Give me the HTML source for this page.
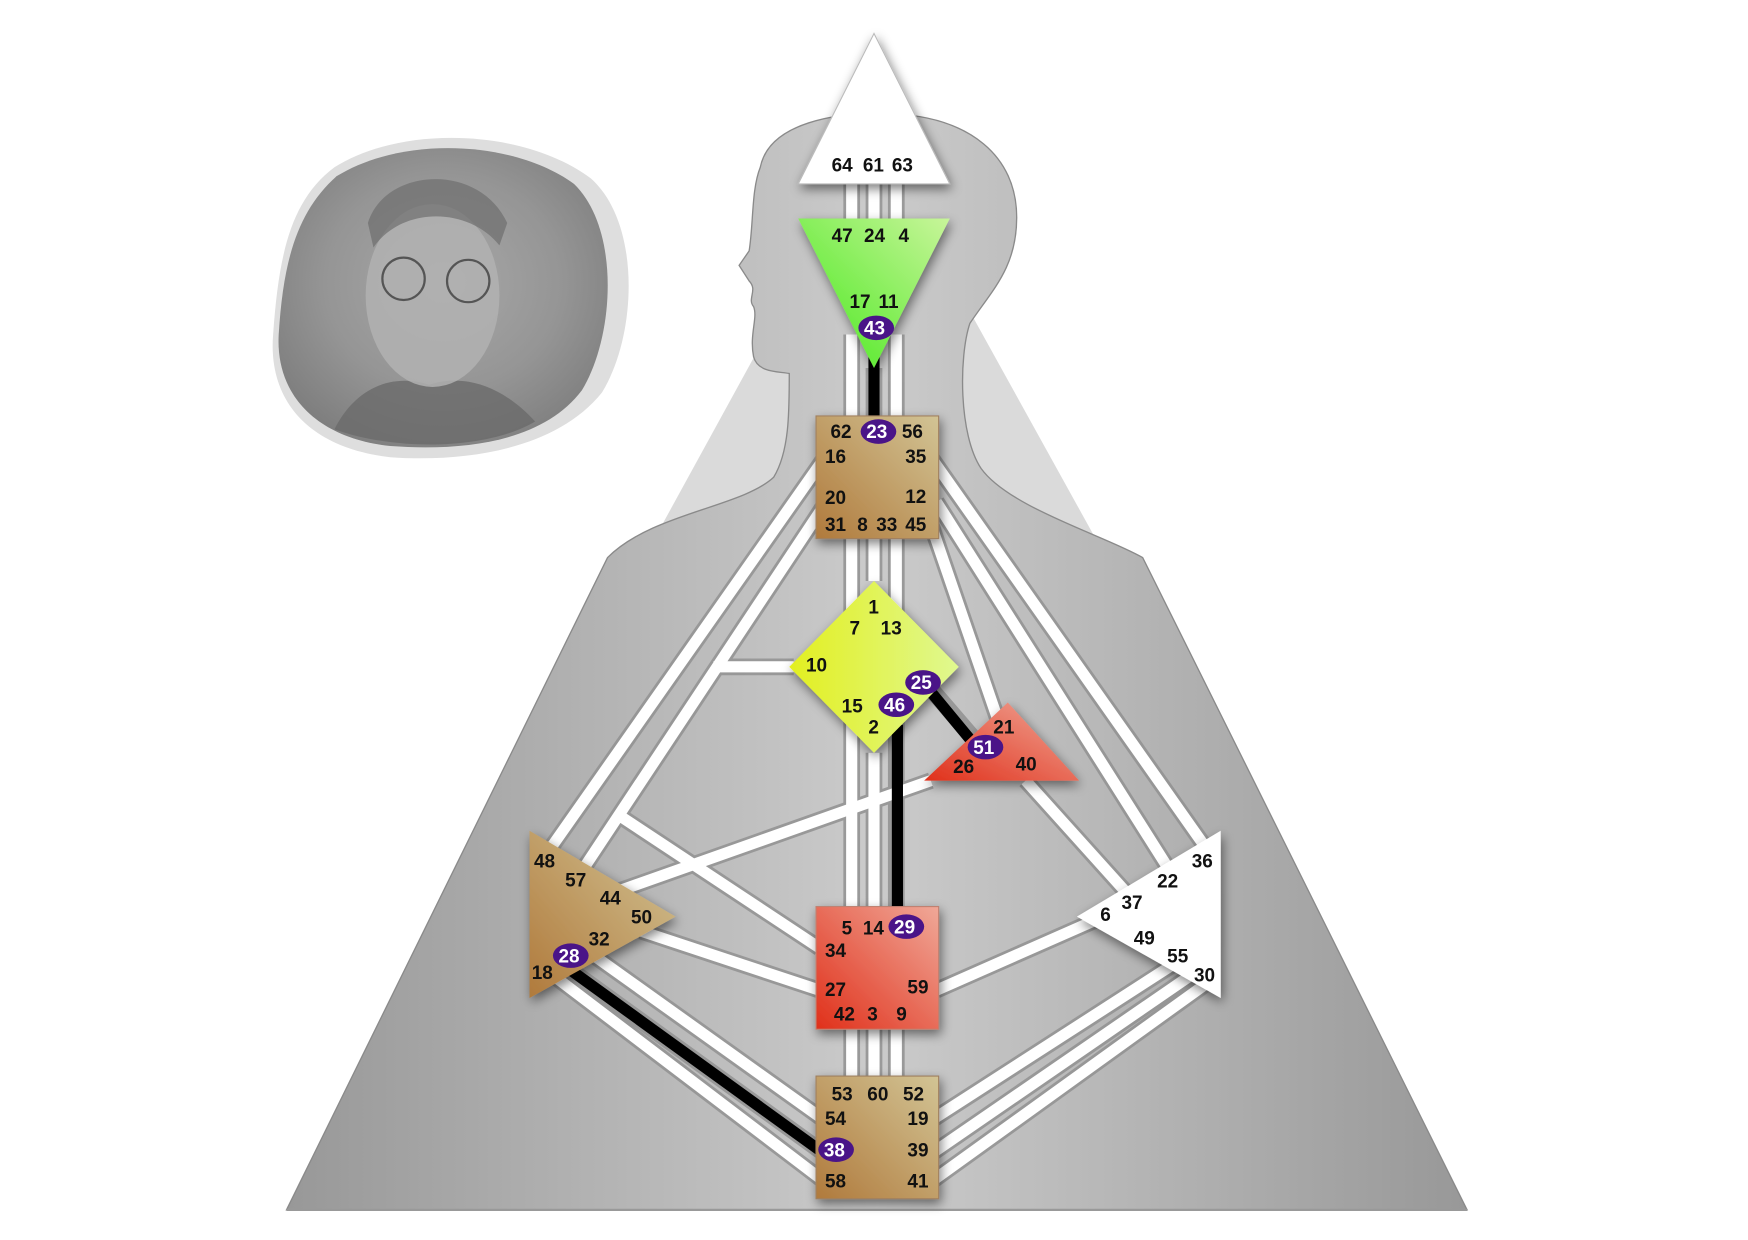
<!DOCTYPE html>
<html><head><meta charset="utf-8"><style>
html,body{margin:0;padding:0;background:#fff;}
svg{display:block;}
text{font-family:"Liberation Sans","DejaVu Sans",sans-serif;font-weight:bold;font-size:17px;fill:#111;}
.b text{fill:#fff;}
</style></head><body>
<svg width="1748" height="1240" viewBox="0 0 1568 1112" preserveAspectRatio="none" xmlns="http://www.w3.org/2000/svg">
<defs>
<linearGradient id="body" gradientUnits="userSpaceOnUse" x1="257" x2="1316" y1="0" y2="0">
<stop offset="0" stop-color="#989898"/><stop offset="0.5" stop-color="#cbcbcb"/><stop offset="1" stop-color="#989898"/></linearGradient>
<linearGradient id="green" x1="0" y1="1" x2="1" y2="0"><stop offset="0" stop-color="#44e81a"/><stop offset="1" stop-color="#c8f59a"/></linearGradient>
<linearGradient id="brown" x1="0" y1="1" x2="1" y2="0"><stop offset="0" stop-color="#b07a3c"/><stop offset="1" stop-color="#d2c495"/></linearGradient>
<linearGradient id="red" x1="0" y1="1" x2="1" y2="0"><stop offset="0" stop-color="#e0301a"/><stop offset="1" stop-color="#f0a898"/></linearGradient>
<linearGradient id="yel" x1="0" y1="0" x2="1" y2="0"><stop offset="0" stop-color="#e2ef20"/><stop offset="1" stop-color="#e0f890"/></linearGradient>
<radialGradient id="photo" cx="0.5" cy="0.45" r="0.6"><stop offset="0" stop-color="#a8a8a8"/><stop offset="0.6" stop-color="#959595"/><stop offset="1" stop-color="#7e7e7e"/></radialGradient>
<filter id="sh" x="-20%" y="-20%" width="140%" height="140%"><feGaussianBlur in="SourceAlpha" stdDeviation="5"/><feOffset dx="2" dy="4"/><feComponentTransfer><feFuncA type="linear" slope="0.5"/></feComponentTransfer><feMerge><feMergeNode/><feMergeNode in="SourceGraphic"/></feMerge></filter>
</defs>

<!-- photo -->
<path d="M300 150 C360 112 470 115 530 160 C575 200 572 300 540 352 C500 402 420 415 350 410 C280 402 240 362 245 300 C250 230 260 180 300 150Z" fill="#dedede"/>
<path d="M302 158 C360 122 460 125 515 165 C556 205 552 300 522 350 C488 395 420 405 350 400 C285 393 247 355 250 300 C254 235 266 190 302 158Z" fill="url(#photo)"/>
<path d="M300 385 C320 345 355 335 385 345 C415 335 450 345 480 378 C440 402 360 406 300 385Z" fill="#6a6a6a" opacity="0.8"/>
<ellipse cx="388" cy="265" rx="60" ry="82" fill="#b2b2b2" opacity="0.85"/>
<path d="M330 200 C345 150 430 145 455 200 L448 220 C420 185 360 185 335 222Z" fill="#6e6e6e" opacity="0.7"/>
<circle cx="362" cy="250" r="19" fill="none" stroke="#555" stroke-width="2"/>
<circle cx="420" cy="252" r="19" fill="none" stroke="#555" stroke-width="2"/>

<!-- big triangle -->
<polygon points="784,124 257,1085 1316,1085" fill="#dadada"/>
<!-- silhouette body -->
<path d="M545,500 L257,1085 L1316,1085 L1025,500 C990,480 905,455 880,420 C860,390 860,320 870,290 C890,260 912,240 912,195 C912,140 870,105 800,102 C750,100 690,110 682,150 C674,170 676,200 672,225 L663,238 L672,252 C680,260 670,268 676,275 C680,285 672,300 676,320 C680,335 700,333 708,335 C708,370 708,405 694,428 C665,455 585,460 545,500 Z" fill="url(#body)" stroke="#8a8a8a" stroke-width="1.2"/>
<line x1="257" y1="1085" x2="1316" y2="1085" stroke="#999" stroke-width="2"/>

<!-- channels -->
<g fill="none" stroke-linecap="butt">
<g stroke="#8e8e8e" stroke-width="15" opacity="0.8">
<path d="M764,165V196M784,165V196M804,165V196"/>
<path d="M764,300V373M784,330V373M804,300V373"/>
<path d="M764,483V560M784,483V521M804,483V560"/>
<path d="M764,640V813M784,675V813M804,640V813"/>
<path d="M764,923V965M784,923V965M804,923V965"/>
<path d="M740,410L493,762M740,452L524,778M640,598H712M558,733L735,850M575,835L735,888M538,805L835,700M830,612L880,670M835,470L895,645M835,410L1085,765M840,450L1052,785M920,700L1010,800M840,888L990,822M740,1060L490,870M740,1035L505,865M740,1005L530,855M835,1005L1060,860M835,1035L1075,870M835,1060L1085,880"/>
</g>
<g stroke="#fff" stroke-width="10">
<path d="M764,165V196M784,165V196M804,165V196"/>
<path d="M764,300V373M804,300V373"/>
<path d="M764,483V560M784,483V521M804,483V560"/>
<path d="M764,640V813M784,675V813"/>
<path d="M764,923V965M784,923V965M804,923V965"/>
<path d="M740,410L493,762M740,452L524,778M640,598H712M558,733L735,850M575,835L735,888M538,805L835,700M835,470L895,645M835,410L1085,765M840,450L1052,785M920,700L1010,800M840,888L990,822M740,1060L490,870M740,1005L530,855M835,1005L1060,860M835,1035L1075,870M835,1060L1085,880"/>
</g>
<g stroke="#000" stroke-width="10">
<path d="M784,320V373M805,650V813M833,618L876,670M740,1035L505,865"/>
</g>
</g>

<!-- centers -->
<g filter="url(#sh)">
<polygon points="784,30 716,165 852,165" fill="#fff" stroke="#bbb"/>
<polygon points="716,196 852,196 784,330" fill="url(#green)"/>
<rect x="732" y="373" width="110" height="110" fill="url(#brown)" stroke="#a08060"/>
<polygon points="784,521 860,598 784,675 708,598" fill="url(#yel)"/>
<polygon points="904,630 968,700 829,700" fill="url(#red)"/>
<polygon points="475,745 606,822 475,895" fill="url(#brown)"/>
<polygon points="1095,745 966,822 1095,895" fill="#fff"/>
<rect x="732" y="813" width="110" height="110" fill="url(#red)" stroke="#c08070"/>
<rect x="732" y="965" width="110" height="110" fill="url(#brown)" stroke="#a08060"/>
</g>

<!-- labels -->
<text x="746" y="154">64</text><text x="774" y="154">61</text><text x="800" y="154">63</text>
<text x="746" y="217">47</text><text x="775" y="217">24</text><text x="806" y="217">4</text>
<text x="762" y="276">17</text><text x="788" y="276">11</text>
<text x="745" y="393">62</text><text x="809" y="393">56</text>
<text x="740" y="415">16</text><text x="812" y="415">35</text>
<text x="740" y="452">20</text><text x="812" y="451">12</text>
<text x="740" y="476">31</text><text x="769" y="476">8</text><text x="786" y="476">33</text><text x="812" y="476">45</text>
<text x="779" y="550">1</text><text x="762" y="569">7</text><text x="790" y="569">13</text>
<text x="723" y="602">10</text><text x="755" y="639">15</text><text x="779" y="658">2</text>
<text x="891" y="658">21</text><text x="855" y="693">26</text><text x="911" y="691">40</text>
<text x="479" y="778">48</text><text x="507" y="795">57</text><text x="538" y="811">44</text><text x="566" y="828">50</text>
<text x="528" y="848">32</text><text x="477" y="878">18</text>
<text x="1069" y="778">36</text><text x="1038" y="796">22</text><text x="1006" y="815">37</text><text x="987" y="826">6</text>
<text x="1017" y="847">49</text><text x="1047" y="863">55</text><text x="1071" y="880">30</text>
<text x="755" y="838">5</text><text x="774" y="838">14</text><text x="740" y="858">34</text>
<text x="740" y="893">27</text><text x="814" y="891">59</text>
<text x="748" y="915">42</text><text x="778" y="915">3</text><text x="804" y="915">9</text>
<text x="746" y="987">53</text><text x="778" y="987">60</text><text x="810" y="987">52</text>
<text x="740" y="1009">54</text><text x="814" y="1009">19</text>
<text x="814" y="1037">39</text>
<text x="740" y="1065">58</text><text x="814" y="1065">41</text>

<!-- badges -->
<g class="b">
<ellipse cx="786" cy="294" rx="16" ry="11" fill="#4a1488"/><text x="775" y="300">43</text>
<ellipse cx="788" cy="387" rx="16" ry="11" fill="#4a1488"/><text x="777" y="393">23</text>
<ellipse cx="828" cy="612" rx="16" ry="11" fill="#4a1488"/><text x="817" y="618">25</text>
<ellipse cx="804" cy="632" rx="16" ry="11" fill="#4a1488"/><text x="793" y="638">46</text>
<ellipse cx="884" cy="670" rx="16" ry="11" fill="#4a1488"/><text x="873" y="676">51</text>
<ellipse cx="813" cy="831" rx="16" ry="11" fill="#4a1488"/><text x="802" y="837">29</text>
<ellipse cx="512" cy="857" rx="16" ry="11" fill="#4a1488"/><text x="501" y="863">28</text>
<ellipse cx="750" cy="1031" rx="16" ry="11" fill="#4a1488"/><text x="739" y="1037">38</text>
</g>
</svg>
</body></html>
